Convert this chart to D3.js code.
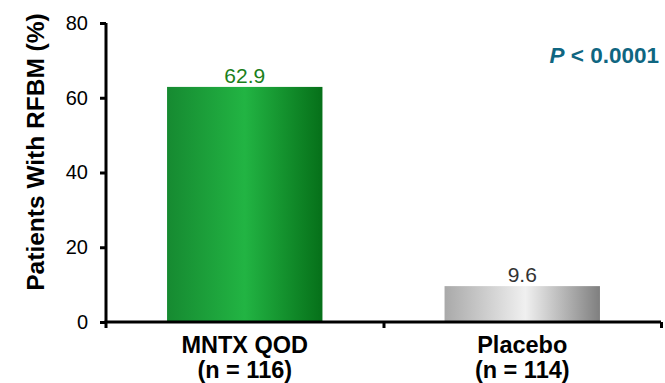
<!DOCTYPE html>
<html lang="en">
<head>
    <meta charset="UTF-8">
    <title>RFBM</title>
    <style>
        body { margin: 0; background: #fff; }
        text { font-family: "Liberation Sans", Arial, sans-serif; }
    </style>
</head>
<body>
    <div id="graph"></div>

    <script src="https://cdnjs.cloudflare.com/ajax/libs/d3/7.0.0/d3.min.js"></script>
    <script>
        var groups = ["MNTX QOD", "Placebo"];
        var groupN = ["(n = 116)", "(n = 114)"];
        var values = [62.9, 9.6];
        var yTicks = [0, 20, 40, 60, 80];
        var pText = "< 0.0001";

        var margin = { top: 23, right: 4, bottom: 61, left: 106 },
            width = 665 - margin.left - margin.right,
            height = 383 - margin.top - margin.bottom;

        var svg = d3.select("#graph").append("svg")
            .attr("width", 665)
            .attr("height", 383);

        var defs = svg.append("defs");
        function grad(id, stops) {
            var g = defs.append("linearGradient").attr("id", id)
                .attr("x1", "0%").attr("x2", "100%").attr("y1", "0%").attr("y2", "0%");
            stops.forEach(s => g.append("stop").attr("offset", s[0]).attr("stop-color", s[1]));
        }
        grad("gGreen", [["0%", "#168a31"], ["50%", "#22b443"], ["100%", "#067019"]]);
        grad("gGray", [["0%", "#a9a9a9"], ["52%", "#f0f0f0"], ["100%", "#7f7f7f"]]);
        var fills = ["url(#gGreen)", "url(#gGray)"];
        var labelColors = ["#1b7f1b", "#333333"];

        var g = svg.append("g")
            .attr("transform", "translate(" + margin.left + "," + margin.top + ")");

        var x = d3.scaleBand().domain(groups).range([0, width])
            .paddingInner(0.44).paddingOuter(0.22);
        var xEdge = d3.scaleLinear().domain([0, groups.length]).range([0, width]);
        var y = d3.scaleLinear().domain([0, 80]).range([height, 0]);

        // bars
        g.selectAll("rect.bar")
            .data(values)
            .enter().append("rect")
            .attr("class", "bar")
            .attr("x", (d, i) => x(groups[i]))
            .attr("width", x.bandwidth())
            .attr("y", d => y(d))
            .attr("height", d => height - y(d))
            .attr("fill", (d, i) => fills[i]);

        g.selectAll("text.val")
            .data(values)
            .enter().append("text")
            .attr("class", "val")
            .attr("x", (d, i) => x(groups[i]) + x.bandwidth() / 2)
            .attr("y", d => y(d) - 4)
            .attr("text-anchor", "middle")
            .attr("font-size", "21px")
            .attr("fill", (d, i) => labelColors[i])
            .text(d => d.toFixed(1));

        // y axis
        var yAxis = g.append("g")
            .call(d3.axisLeft(y).tickValues(yTicks).tickSize(6).tickSizeOuter(0).tickPadding(12));
        yAxis.select(".domain").attr("stroke", "#000").attr("stroke-width", 3)
            .attr("d", "M0," + (height + 6) + "V0");
        yAxis.selectAll(".tick line").attr("stroke", "#000").attr("stroke-width", 3);
        yAxis.selectAll(".tick text").attr("font-size", "20px").attr("fill", "#000")
            .attr("font-family", "Liberation Sans, Arial, sans-serif");

        // x axis with ticks at category boundaries
        var xAxis = g.append("g")
            .attr("transform", "translate(0," + height + ")")
            .call(d3.axisBottom(xEdge).tickValues([1, 2]).tickSize(6).tickSizeOuter(0).tickFormat(""));
        xAxis.select(".domain").attr("stroke", "#000").attr("stroke-width", 3)
            .attr("d", "M-1.5,0H" + width);
        xAxis.selectAll(".tick line").attr("stroke", "#000").attr("stroke-width", 3);

        // category labels
        var cat = g.selectAll("text.cat")
            .data(groups)
            .enter().append("text")
            .attr("class", "cat")
            .attr("text-anchor", "middle")
            .attr("font-size", "23.5px")
            .attr("font-weight", "bold")
            .attr("fill", "#000")
            .attr("x", d => x(d) + x.bandwidth() / 2)
            .attr("y", height + 31);
        cat.append("tspan").text(d => d);
        cat.append("tspan")
            .attr("x", d => x(d) + x.bandwidth() / 2)
            .attr("dy", 25)
            .text((d, i) => groupN[i]);

        // y title
        svg.append("text")
            .attr("transform", "translate(44," + (margin.top + 129) + ") rotate(-90)")
            .attr("text-anchor", "middle")
            .attr("font-size", "24.5px")
            .attr("font-weight", "bold")
            .attr("fill", "#000")
            .text("Patients With RFBM (%)");

        // p value
        var p = svg.append("text")
            .attr("x", 659)
            .attr("y", 63)
            .attr("text-anchor", "end")
            .attr("font-size", "22.5px")
            .attr("font-weight", "bold")
            .attr("fill", "#0f6681");
        p.append("tspan").attr("font-style", "italic").text("P");
        p.append("tspan").text(" " + pText);
    </script>
</body>
</html>
